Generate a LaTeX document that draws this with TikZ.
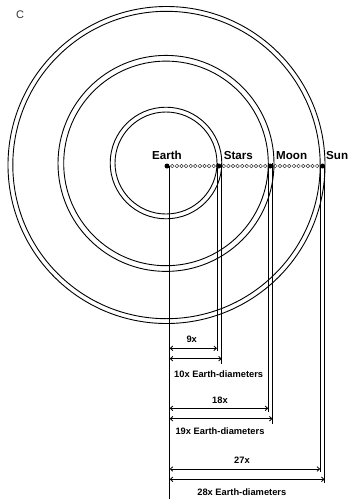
\documentclass[tikz,border=0pt]{standalone}
\usepackage{fontspec}
\setmainfont{Liberation Sans}
\usetikzlibrary{arrows.meta}
\tikzset{
  ring/.style={draw=black, line width=0.9pt},
  dotnode/.style={circle, fill=black, inner sep=0pt, minimum size=5pt},
  bigl/.style={font=\fontsize{11.6}{13}\selectfont\bfseries, inner sep=0pt},
  smalll/.style={font=\fontsize{9.3}{11}\selectfont\bfseries, inner sep=0pt},
  vline/.style={draw=black, line width=0.8pt},
  dim/.style={draw=black, line width=0.8pt, {Straight Barb[length=2.6pt,width=4.6pt]}-{Straight Barb[length=2.6pt,width=4.6pt]}},
  link/.style={draw=black!80, line width=0.5pt},
}
\begin{document}
\begin{tikzpicture}[x=1pt, y=-1pt]
\useasboundingbox (0,0) rectangle (349,499);
\fill[white] (0,0) rectangle (349,499);

\node[font=\fontsize{11}{12}\selectfont, text=black!80, inner sep=0pt] (tag) at (20,15) {C};

% rings
\coordinate (c1) at (166,163);
\coordinate (c2) at (166,163.4);
\coordinate (c3) at (166.5,165);
\draw[ring] (c1) circle[radius=51];
\draw[ring] (c1) circle[radius=55.8];
\draw[ring] (c2) circle[radius=102.3];
\draw[ring] (c2) circle[radius=108];
\draw[ring] (c3) circle[radius=153.7];
\draw[ring] (c3) circle[radius=158.5];

% chain of small circles
\foreach \a/\b in {170/216, 221.5/267.5, 273/319.5} {
  \foreach \i in {0,...,9} {
    \pgfmathsetmacro{\xx}{\a + (\b-\a)*(\i+0.5)/10}
    \draw[link] (\xx,166) circle[radius=1.8];
  }
}

% vertical line ends
\coordinate (e0) at (169.7,166);   \coordinate (e1) at (169.7,499);
\coordinate (s0) at (217,163);     \coordinate (s1) at (217,351);
\coordinate (t0) at (221.8,163);   \coordinate (t1) at (221.8,364);
\coordinate (m0) at (268.3,163.4); \coordinate (m1) at (268.3,411.7);
\coordinate (n0) at (272.6,163.4); \coordinate (n1) at (272.6,424);
\coordinate (u0) at (320.2,165);   \coordinate (u1) at (320.2,471.7);
\coordinate (v0) at (324.6,165);   \coordinate (v1) at (324.6,483.3);
\draw[vline] (e0) -- (e1);
\draw[vline] (s0) -- (s1);
\draw[vline] (t0) -- (t1);
\draw[vline] (m0) -- (m1);
\draw[vline] (n0) -- (n1);
\draw[vline] (u0) -- (u1);
\draw[vline] (v0) -- (v1);

% dots
\node[dotnode] (earth) at (167,166) {};
\node[dotnode] (stars) at (218.8,166) {};
\node[dotnode] (moon)  at (270.2,166) {};
\node[dotnode] (sun)   at (322.6,166) {};

% labels
\node[bigl] (learth) at (167,155.3) {Earth};
\node[bigl] (lstars) at (238.3,155.3) {Stars};
\node[bigl] (lmoon)  at (291.7,155.3) {Moon};
\node[bigl, anchor=east] (lsun) at (348.3,155.3) {Sun};

% dimension arrows
\coordinate (a9l)  at (169.7,348.3); \coordinate (a9r)  at (217,348.3);
\coordinate (a10l) at (169.7,358.7); \coordinate (a10r) at (221.8,358.7);
\coordinate (a18l) at (169.7,408.3); \coordinate (a18r) at (268.3,408.3);
\coordinate (a19l) at (169.7,418.7); \coordinate (a19r) at (272.6,418.7);
\coordinate (a27l) at (169.7,469);   \coordinate (a27r) at (320.2,469);
\coordinate (a28l) at (169.7,479.3); \coordinate (a28r) at (324.6,479.3);
\draw[dim] (a9l) -- (a9r);
\draw[dim] (a10l) -- (a10r);
\draw[dim] (a18l) -- (a18r);
\draw[dim] (a19l) -- (a19r);
\draw[dim] (a27l) -- (a27r);
\draw[dim] (a28l) -- (a28r);

\node[smalll] (l9)  at (191.7,339.3) {9x};
\node[smalll] (l10) at (218.7,374.3) {10x Earth-diameters};
\node[smalll] (l18) at (220,400)     {18x};
\node[smalll] (l19) at (220,431)     {19x Earth-diameters};
\node[smalll] (l27) at (242,460.7)   {27x};
\node[smalll] (l28) at (241.8,492)   {28x Earth-diameters};
\end{tikzpicture}
\end{document}
